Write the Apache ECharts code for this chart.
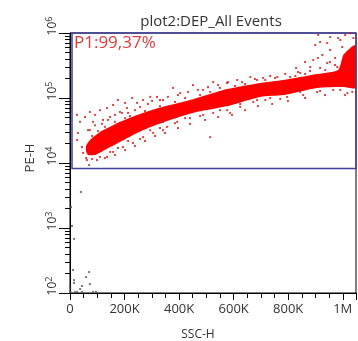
<!DOCTYPE html>
<html>
<head>
<meta charset="utf-8">
<script src="https://cdn.jsdelivr.net/npm/echarts@6/dist/echarts.min.js"></script>
<style>
  html, body { margin: 0; padding: 0; background: #fff; }
  #chart { width: 358px; height: 341px; }
</style>
</head>
<body>
<div id="chart"></div>
<script>
// Axis ticks and labels
const xMajorTicks = [0, 200000, 400000, 600000, 800000, 1000000];
const xTickLabels = ['0', '200K', '400K', '600K', '800K', '1M'];
const xTickStep = 200000;
const xMax = 1048576;
const yMajorTicks = [100, 1000, 10000, 100000, 1000000];
const yTickExponents = ['2', '3', '4', '5', '6'];

// Gate P1
const gateX = [7300, 1048576];
const gateY = [8200, 1000000];
const gateLabel = 'P1:99,37%';

// Dense event population: upper and lower edge of the main cloud (SSC-H, PE-H)
const bandUpper = [
  [59000, 18300], [73000, 22600], [110000, 30000], [147000, 36000], [183000, 43000],
  [246000, 55000], [312000, 68000], [367000, 78000], [451000, 96000], [576000, 137000],
  [697000, 170000], [782000, 189000], [906000, 234000], [983000, 270000],
  [1002000, 459000], [1028000, 590000], [1048576, 653000]
];
const bandLower = [
  [59000, 15000], [66000, 13300], [92000, 13300], [121000, 15300], [183000, 21000],
  [246000, 29000], [312000, 38000], [367000, 46000], [451000, 59000], [576000, 75000],
  [697000, 104000], [782000, 111000], [906000, 143000], [1002000, 148000], [1048576, 143000]
];

// Sparse events around the main cloud
const scatterEvents = [
  [25700, 55000], [36700, 43000], [55000, 51000], [73000, 61000], [92000, 55000],
  [110000, 65000], [136000, 70000], [158000, 78000], [176000, 93000], [202000, 84000],
  [228000, 100000], [246000, 84000], [268000, 93000], [294000, 104000], [319000, 104000],
  [341000, 93000], [29000, 29000], [44000, 17600], [48000, 14300], [62000, 11100],
  [70000, 9300], [26000, 22600], [136000, 12400], [158000, 14800], [194000, 17600],
  [231000, 20300], [268000, 25000], [305000, 29000], [341000, 32000], [84000, 43000],
  [121000, 46000], [73000, 32000], [147000, 51000], [183000, 61000], [213000, 59000],
  [378000, 143000], [451000, 158000], [525000, 176000], [576000, 170000], [613000, 189000],
  [661000, 210000], [686000, 189000], [404000, 119000], [488000, 133000], [356000, 36000],
  [393000, 43000], [440000, 49000], [488000, 55000], [525000, 59000], [576000, 65000],
  [594000, 55000], [624000, 73000], [672000, 87000], [341000, 43000], [514000, 25000],
  [910000, 931000], [954000, 867000], [899000, 653000], [954000, 547000], [925000, 459000],
  [892000, 384000], [972000, 413000], [991000, 780000], [998000, 609000], [943000, 345000],
  [980000, 300000], [881000, 300000], [844000, 243000], [807000, 210000], [760000, 210000],
  [708000, 203000], [686000, 93000], [734000, 100000], [796000, 104000], [855000, 111000],
  [906000, 124000], [965000, 133000], [1017000, 119000], [1028000, 990000], [1009000, 931000],
  [1039000, 837000], [917000, 728000], [943000, 702000], [983000, 837000],
  [81000, 26000], [103000, 31000], [128000, 36000], [165000, 43000], [202000, 49000],
  [220000, 52800], [275000, 63000], [330000, 75000], [385000, 87000], [422000, 100000],
  [477000, 111000], [514000, 124000], [550000, 143000], [605000, 153000], [642000, 164000],
  [716000, 189000], [752000, 203000], [826000, 218000], [862000, 234000], [936000, 270000],
  [972000, 322000],
  [81000, 11500], [110000, 12400], [147000, 14800], [176000, 17000], [213000, 21800],
  [257000, 23400], [294000, 32000], [330000, 34500], [385000, 41000], [422000, 49000],
  [477000, 52800], [550000, 65000], [624000, 81000], [716000, 93000], [771000, 96500],
  [844000, 124000], [917000, 128000], [991000, 133000], [1035000, 124000],
  [66000, 32000], [92000, 38000], [117000, 40000], [139000, 46000], [165000, 55000],
  [191000, 59000], [209000, 70000], [238000, 65000], [257000, 73000], [286000, 81000],
  [301000, 90000], [330000, 93000], [359000, 104000], [396000, 111000], [433000, 124000],
  [469000, 133000], [506000, 147000], [543000, 158000], [579000, 176000], [631000, 176000],
  [678000, 196000], [734000, 218000], [789000, 234000], [836000, 251000], [880000, 260000],
  [917000, 290000], [953000, 358000], [909000, 413000], [862000, 358000], [829000, 290000],
  [59000, 11900], [99000, 11100], [128000, 11900], [165000, 13300], [202000, 15800],
  [238000, 18300], [275000, 21800], [312000, 26000], [348000, 29000], [396000, 34500],
  [440000, 40000], [495000, 46000], [543000, 51000], [587000, 59000], [642000, 65000],
  [689000, 75000], [741000, 81000], [799000, 90000], [862000, 100000], [935000, 111000],
  [1008000, 111000]
];

// Debris events outside the gate
const lowEvents = [
  [40000, 3580], [3700, 2100], [7300, 1075], [15000, 680], [11000, 226], [70000, 210],
  [59000, 176], [14700, 158], [14700, 143], [44000, 128], [73000, 137], [37000, 115],
  [1000, 119], [1500, 104], [26000, 104], [44000, 104], [84000, 104], [95000, 104], [18000, 103]
];

const FONT = '"Open Sans", "Noto Sans", sans-serif';
const TEXT = '#333';
const Y_MIN = 100;
const Y_MAX = 1000000;

const bandOutline = bandUpper.concat(bandLower.slice().reverse());

function yTickIndex(v) {
  return yMajorTicks.findIndex(t => Math.abs(t - v) / t < 1e-6);
}

const chart = echarts.init(document.getElementById('chart'));

chart.setOption({
  animation: false,
  title: {
    text: 'plot2:DEP_All Events',
    left: 206,
    top: 9,
    textAlign: 'center',
    textStyle: { fontFamily: FONT, fontSize: 15, fontWeight: 'normal', color: TEXT }
  },
  grid: {
    left: 70, right: 2, top: 33, bottom: 48,
    outerBoundsMode: 'none', containLabel: false,
    show: true, borderColor: '#000', borderWidth: 1
  },
  xAxis: {
    type: 'value', min: 0, max: xMax, interval: xTickStep,
    name: 'SSC-H', nameLocation: 'middle', nameGap: 36,
    nameTextStyle: { fontFamily: FONT, fontSize: 12, color: TEXT, padding: [0, 30, 0, 0] },
    axisLine: { show: true, onZero: false, lineStyle: { color: '#000', width: 1 } },
    axisTick: { show: true, length: 7, lineStyle: { color: '#000', width: 1 } },
    minorTick: { show: true, splitNumber: 4, length: 5, lineStyle: { color: '#000', width: 1 } },
    axisLabel: {
      margin: 10,
      fontFamily: FONT, fontSize: 13, color: TEXT,
      formatter: v => { const i = xMajorTicks.indexOf(v); return i >= 0 ? xTickLabels[i] : ''; }
    },
    splitLine: { show: false }
  },
  yAxis: {
    type: 'log', logBase: 10, min: Y_MIN, max: Y_MAX, position: 'left',
    name: 'PE-H', nameLocation: 'middle', nameGap: 33,
    nameTextStyle: { fontFamily: FONT, fontSize: 13, color: TEXT, padding: [0, 0, 0, 10] },
    axisLine: { show: true, onZero: false, lineStyle: { color: '#000', width: 1 } },
    axisTick: { show: true, length: 11, lineStyle: { color: '#000', width: 1 } },
    minorTick: { show: true, splitNumber: 9, length: 5, lineStyle: { color: '#000', width: 1 } },
    axisLabel: {
      rotate: 90, margin: 10,
      fontFamily: FONT, color: TEXT,
      formatter: v => {
        const i = yTickIndex(v);
        return i >= 0 ? '{sp| }{b|10}{s|' + yTickExponents[i] + '}' : '';
      },
      rich: {
        sp: { width: 14, fontSize: 12 },
        b: { fontFamily: FONT, fontSize: 12, color: TEXT },
        s: { fontFamily: FONT, fontSize: 9, color: TEXT, padding: [0, 0, 6, 0] }
      }
    },
    splitLine: { show: false }
  },
  series: [
    {
      name: 'core',
      type: 'custom',
      coordinateSystem: 'cartesian2d',
      clip: true,
      data: [bandUpper[0]],
      renderItem: function (params, api) {
        const pts = bandOutline.map(p => api.coord(p));
        return {
          type: 'polygon',
          shape: { points: pts, smooth: 0.2 },
          style: { fill: '#ff0000' }
        };
      }
    },
    {
      name: 'events',
      type: 'scatter',
      symbol: 'rect',
      symbolSize: 2,
      itemStyle: { color: '#cc1515' },
      data: scatterEvents
    },
    {
      name: 'debris',
      type: 'scatter',
      symbol: 'rect',
      symbolSize: 2,
      itemStyle: { color: '#555' },
      data: lowEvents
    },
    {
      name: 'gate',
      type: 'custom',
      coordinateSystem: 'cartesian2d',
      clip: false,
      data: [[gateX[0], gateY[0], gateX[1], gateY[1]]],
      renderItem: function (params, api) {
        const a = api.coord([api.value(0), api.value(1)]);
        const b = api.coord([api.value(2), api.value(3)]);
        const x0 = Math.min(a[0], b[0]), y0 = Math.min(a[1], b[1]);
        return {
          type: 'group',
          children: [
            {
              type: 'rect',
              shape: { x: x0, y: y0, width: Math.abs(b[0] - a[0]), height: Math.abs(b[1] - a[1]) },
              style: { fill: 'none', stroke: '#3f3f9c', lineWidth: 1.5 }
            },
            {
              type: 'text',
              x: x0 + 2, y: y0 + 2,
              style: {
                text: gateLabel, fill: '#e23a3a',
                fontFamily: FONT, fontSize: 17,
                align: 'left', verticalAlign: 'top'
              }
            }
          ]
        };
      }
    }
  ]
});
</script>
</body>
</html>
